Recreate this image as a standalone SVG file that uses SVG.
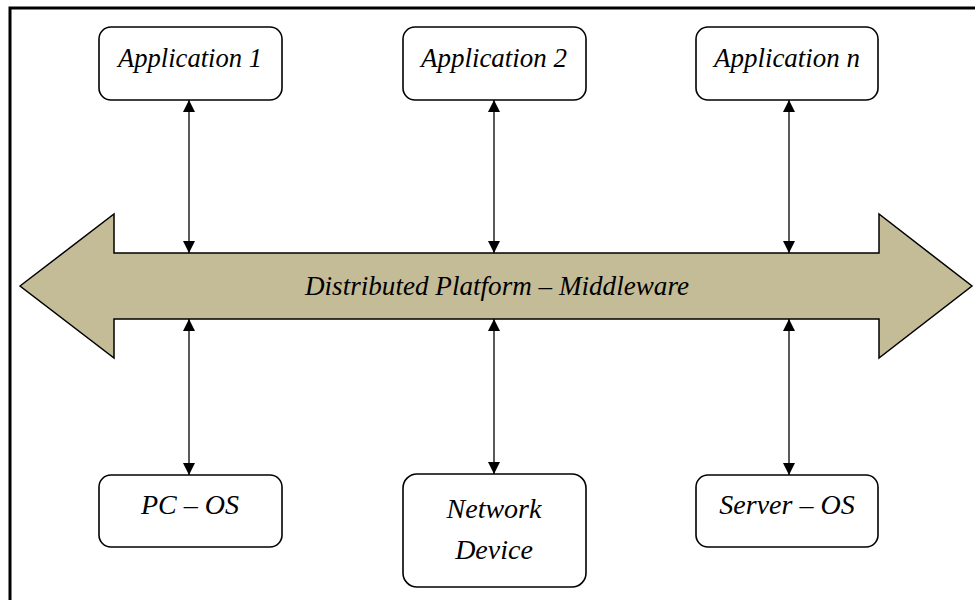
<svg xmlns="http://www.w3.org/2000/svg" width="975" height="600" viewBox="0 0 975 600">
<defs>
<marker id="ah" viewBox="0 0 10 10" refX="10" refY="5" markerWidth="15" markerHeight="12" markerUnits="userSpaceOnUse" orient="auto-start-reverse">
<path d="M0,0 L10,5 L0,10 Z" fill="#000"/>
</marker>
<style>
.box{fill:#fff;stroke:#000;stroke-width:1.6}
.t{font-family:"Liberation Serif",serif;font-style:italic;font-size:28px;text-anchor:middle;fill:#000}
.c{stroke:#000;stroke-width:1.3;fill:none;marker-start:url(#ah);marker-end:url(#ah)}
</style>
</defs>
<rect width="975" height="600" fill="#fff"/>
<path d="M10,600 V8 H975" fill="none" stroke="#000" stroke-width="3"/>
<g id="platform">
<polygon points="20,286 114,214 114,253 879,253 879,214 972,286 879,358 879,319 114,319 114,358" fill="#C4BC97" stroke="#000" stroke-width="1.5" stroke-linejoin="miter"/>
<text class="t" x="497" y="295" textLength="384" lengthAdjust="spacingAndGlyphs">Distributed Platform – Middleware</text>
</g>
<g id="connectors">
<line class="c" x1="189" y1="100" x2="189" y2="253"/>
<line class="c" x1="494" y1="100" x2="494" y2="253"/>
<line class="c" x1="789" y1="100" x2="789" y2="253"/>
<line class="c" x1="189" y1="319" x2="189" y2="475"/>
<line class="c" x1="494" y1="319" x2="494" y2="474"/>
<line class="c" x1="789" y1="319" x2="789" y2="475"/>
</g>
<g id="app1"><rect class="box" x="99" y="27" width="183" height="73" rx="12"/><text class="t" x="190" y="67" textLength="144" lengthAdjust="spacingAndGlyphs">Application 1</text></g>
<g id="app2"><rect class="box" x="403" y="27" width="183" height="73" rx="12"/><text class="t" x="494" y="67" textLength="146" lengthAdjust="spacingAndGlyphs">Application 2</text></g>
<g id="appn"><rect class="box" x="696" y="27" width="182" height="73" rx="12"/><text class="t" x="787" y="67" textLength="146" lengthAdjust="spacingAndGlyphs">Application n</text></g>
<g id="pcos"><rect class="box" x="99" y="475" width="183" height="72" rx="12"/><text class="t" x="190" y="514">PC – OS</text></g>
<g id="netdev"><rect class="box" x="403" y="474" width="183" height="113" rx="14"/><text class="t" x="494" y="518">Network</text><text class="t" x="494" y="559">Device</text></g>
<g id="serveros"><rect class="box" x="696" y="475" width="182" height="72" rx="12"/><text class="t" x="787" y="514">Server – OS</text></g>
</svg>
